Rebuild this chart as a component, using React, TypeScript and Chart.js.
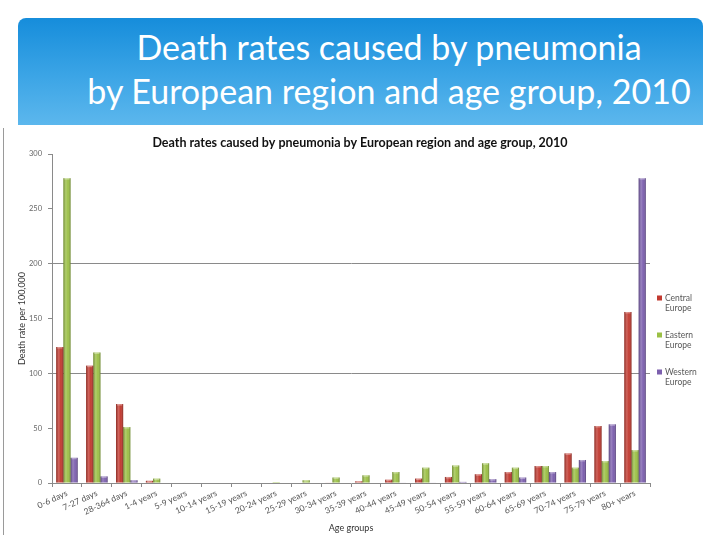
import { useEffect, useRef } from 'react';
import { Chart, registerables } from 'chart.js';

Chart.register(...registerables);

const slideTitleLines = ['Death rates caused by pneumonia', 'by European region and age group, 2010'];
const chartTitle = 'Death rates caused by pneumonia by European region and age group, 2010';
const yAxisTitle = 'Death rate per 100,000';
const xAxisTitle = 'Age groups';

const categories = [
  '0-6 days', '7-27 days', '28-364 days', '1-4 years', '5-9 years', '10-14 years',
  '15-19 years', '20-24 years', '25-29 years', '30-34 years', '35-39 years', '40-44 years',
  '45-49 years', '50-54 years', '55-59 years', '60-64 years', '65-69 years', '70-74 years',
  '75-79 years', '80+ years',
];

const centralEurope = [124, 107, 72, 2, 0, 0, 0, 0, 0, 0.5, 1.5, 3, 4, 5.5, 8, 10, 15.5, 27, 52, 156];
const easternEurope = [278, 119, 51, 4, 0, 0, 0, 0.8, 2.5, 5, 7, 10, 14, 16, 18, 14, 15.5, 14, 20, 30];
const westernEurope = [23, 6, 2.5, 0, 0, 0, 0, 0, 0, 0, 0, 0.5, 0.5, 1, 3.5, 5, 10, 21, 53.5, 278];

const seriesNames = ['Central Europe', 'Eastern Europe', 'Western Europe'];
const seriesColors = ['#c1392f', '#9bc045', '#7c5fae'];

const yMin = 0;
const yMax = 300;
const yStep = 50;
const yGridEvery = 100;

const FONT = 'Lato, "Open Sans", sans-serif';

const shadePlugin = {
  id: 'cylinderShade',
  afterDatasetsDraw(chart: any) {
    const ctx = chart.ctx;
    ctx.save();
    chart.data.datasets.forEach((_ds: any, i: number) => {
      const meta = chart.getDatasetMeta(i);
      meta.data.forEach((bar: any) => {
        const { x, y, base, width } = bar.getProps(['x', 'y', 'base', 'width'], true);
        const h = base - y;
        if (h <= 0.5) return;
        const g = ctx.createLinearGradient(x - width / 2, 0, x + width / 2, 0);
        g.addColorStop(0, 'rgba(0,0,0,0.28)');
        g.addColorStop(0.35, 'rgba(255,255,255,0.22)');
        g.addColorStop(0.65, 'rgba(255,255,255,0.02)');
        g.addColorStop(1, 'rgba(0,0,0,0.32)');
        ctx.fillStyle = g;
        ctx.fillRect(x - width / 2, y, width, h);
        ctx.fillStyle = 'rgba(255,255,255,0.35)';
        ctx.fillRect(x - width / 2 + 1, y, width - 2, Math.min(1.5, h));
      });
    });
    ctx.restore();
  },
};

const sideLegendPlugin = {
  id: 'sideLegend',
  afterDraw(chart: any) {
    const ctx = chart.ctx;
    const area = chart.chartArea;
    const x = area.right + 7;
    let y = area.top + 144;
    ctx.save();
    ctx.font = `8.5px ${FONT}`;
    ctx.textBaseline = 'middle';
    ctx.textAlign = 'left';
    chart.data.datasets.forEach((ds: any) => {
      ctx.fillStyle = ds.backgroundColor;
      ctx.fillRect(x, y - 2.5, 5, 5);
      ctx.fillStyle = '#595959';
      const words = String(ds.label).split(' ');
      words.forEach((w: string, j: number) => {
        ctx.fillText(w, x + 8, y + j * 10.5);
      });
      y += 37;
    });
    ctx.restore();
  },
};

function PneumoniaChart() {
  const ref = useRef<HTMLCanvasElement | null>(null);

  useEffect(() => {
    if (!ref.current) return;
    const series = [centralEurope, easternEurope, westernEurope];
    const chart = new Chart(ref.current, {
      type: 'bar',
      data: {
        labels: categories,
        datasets: series.map((data, i) => ({
          label: seriesNames[i],
          data,
          backgroundColor: seriesColors[i],
          borderWidth: 0,
          categoryPercentage: 0.72,
          barPercentage: 1,
        })),
      },
      options: {
        responsive: false,
        animation: false,
        layout: { padding: 0 },
        plugins: {
          legend: { display: false },
          tooltip: { enabled: false },
          title: {
            display: true,
            text: chartTitle,
            color: '#111111',
            font: { family: FONT, size: 12.5, weight: 'bold' },
            padding: { top: 7, bottom: 4 },
          },
        },
        scales: {
          x: {
            grid: {
              display: true,
              drawOnChartArea: false,
              drawTicks: true,
              tickLength: 4,
              color: '#8a8a8a',
              offset: true,
            },
            border: { display: true, color: '#8a8a8a' },
            ticks: {
              autoSkip: false,
              minRotation: 25,
              maxRotation: 25,
              color: '#555555',
              font: { family: FONT, size: 8.5 },
              padding: 1,
            },
            title: {
              display: true,
              text: xAxisTitle,
              color: '#333333',
              font: { family: FONT, size: 9 },
              padding: { top: 0, bottom: 7 },
            },
            afterFit: (s: any) => {
              s.height = 57;
            },
          },
          y: {
            min: yMin,
            max: yMax,
            ticks: {
              stepSize: yStep,
              color: '#666666',
              font: { family: FONT, size: 7.5 },
              padding: 6,
            },
            grid: {
              drawTicks: true,
              tickLength: 4,
              color: (c: any) =>
                c.tick && c.tick.value > yMin && c.tick.value < yMax && c.tick.value % yGridEvery === 0
                  ? '#8a8a8a'
                  : 'rgba(0,0,0,0)',
              tickColor: '#8a8a8a',
            },
            border: { display: true, color: '#8a8a8a' },
            title: {
              display: true,
              text: yAxisTitle,
              color: '#333333',
              font: { family: FONT, size: 9 },
              padding: { top: 17, bottom: 0 },
            },
            afterFit: (s: any) => {
              s.width = 52;
            },
          },
          legendSpace: {
            position: 'right',
            display: true,
            grid: { display: false },
            border: { display: false },
            ticks: { display: false },
            afterFit: (s: any) => {
              s.width = 70;
            },
          },
        },
      } as any,
      plugins: [shadePlugin, sideLegendPlugin],
    });
    return () => chart.destroy();
  }, []);

  return (
    <canvas
      ref={ref}
      width={720}
      height={412}
      style={{ position: 'absolute', left: 0, top: 128, width: 720, height: 412 }}
    />
  );
}

export default function App() {
  return (
    <div style={{ position: 'absolute', left: 0, top: 0, width: 720, height: 540, background: '#ffffff', overflow: 'hidden' }}>
      <div
        style={{
          position: 'absolute',
          left: 18,
          top: 18,
          width: 685,
          height: 107,
          borderRadius: '8px 8px 0 0',
          background: 'linear-gradient(to bottom, #168ddb 0%, #3ca5e6 55%, #5cb7ed 100%)',
        }}
      />
      {slideTitleLines.map((t, i) => (
        <div
          key={i}
          style={{
            position: 'absolute',
            left: 18,
            top: 27 + i * 44,
            width: 742,
            textAlign: 'center',
            color: '#ffffff',
            fontFamily: FONT,
            fontSize: 34,
            lineHeight: '40px',
            whiteSpace: 'nowrap',
          }}
        >
          {t}
        </div>
      ))}
      <div style={{ position: 'absolute', left: 3, top: 128, width: 1, height: 407, background: '#9a9a9a' }} />
      <PneumoniaChart />
    </div>
  );
}
